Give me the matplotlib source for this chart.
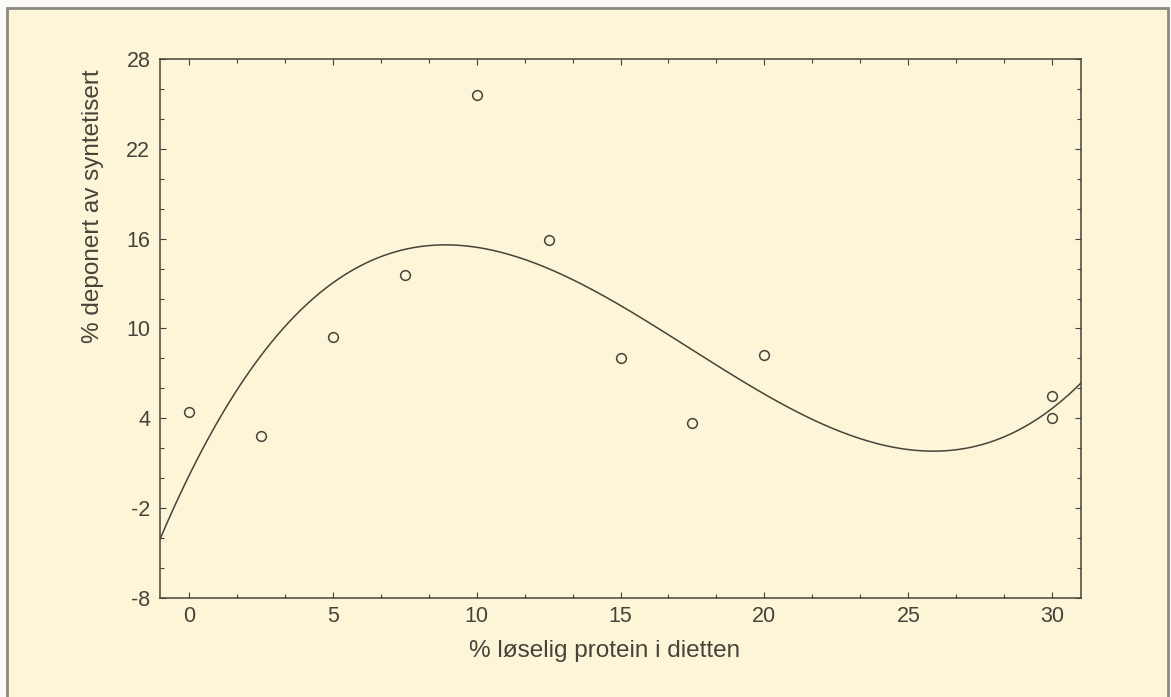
import numpy as np
import matplotlib
matplotlib.use("Agg")
import matplotlib.pyplot as plt
from matplotlib.patches import Rectangle
from matplotlib.ticker import MultipleLocator

# data
protein_pct = [0, 2.5, 5, 7.5, 10, 12.5, 15, 17.5, 20, 30, 30]
deposited_pct = [4.4, 2.8, 9.4, 13.6, 25.6, 15.9, 8.0, 3.7, 8.2, 5.5, 4.0]

x_ticks = [0, 5, 10, 15, 20, 25, 30]
y_ticks = [-8, -2, 4, 10, 16, 22, 28]

ink = "#47433a"
paper = "#fcf5d8"

plt.rcParams['font.family'] = ['Liberation Sans', 'DejaVu Sans']
plt.rcParams['axes.unicode_minus'] = False  # plain hyphen like the original

fig = plt.figure(figsize=(11.71, 6.97), dpi=100)
fig.patch.set_facecolor("#fbfaf6")

# grey frame around the whole panel
frame = Rectangle((7 / 1171, -0.05), 1161 / 1171, 1.05 - 8 / 697,
                  transform=fig.transFigure, facecolor=paper,
                  edgecolor="#8b897f", linewidth=2, zorder=-10)
fig.patches.append(frame)

ax = fig.add_axes([160 / 1171, 1 - 598 / 697, 921 / 1171, 539 / 697])
ax.set_facecolor(paper)

# cubic fit through the points, like the original curve
coef = np.polyfit(protein_pct, deposited_pct, 3)
xs = np.linspace(-1, 31, 300)
ax.plot(xs, np.polyval(coef, xs), color=ink, linewidth=1.1, zorder=2)

ax.plot(protein_pct, deposited_pct, linestyle="none", marker="o",
        markersize=7, markerfacecolor="none", markeredgecolor=ink,
        markeredgewidth=1.1, zorder=3)

ax.set_xlim(-1, 31)
ax.set_ylim(-8, 28)
ax.set_xticks(x_ticks)
ax.set_yticks(y_ticks)
ax.xaxis.set_minor_locator(MultipleLocator(5 / 3))
ax.yaxis.set_minor_locator(MultipleLocator(2))

ax.tick_params(which="both", direction="in", top=True, right=True,
               color=ink, labelcolor=ink, labelsize=15.5, width=0.8)
ax.tick_params(which="major", length=4)
ax.tick_params(axis="x", which="major", pad=6)
ax.tick_params(axis="y", which="major", pad=7)
ax.tick_params(which="minor", length=3)
for s in ax.spines.values():
    s.set_color(ink)
    s.set_linewidth(1.1)

ax.set_xlabel("% løselig protein i dietten", fontsize=17.5, color=ink)
ax.set_ylabel("% deponert av syntetisert", fontsize=17.5, color=ink)
# the original places both titles by hand, y title sits high
ax.xaxis.set_label_coords((605 - 160) / 921, -(651 - 598) / 539)
ax.xaxis.label.set_va("center")
ax.yaxis.set_label_coords((93 - 160) / 921, (598 - 206) / 539)
ax.yaxis.label.set_va("center")

fig.savefig("out.png", dpi=100, facecolor=fig.get_facecolor())
